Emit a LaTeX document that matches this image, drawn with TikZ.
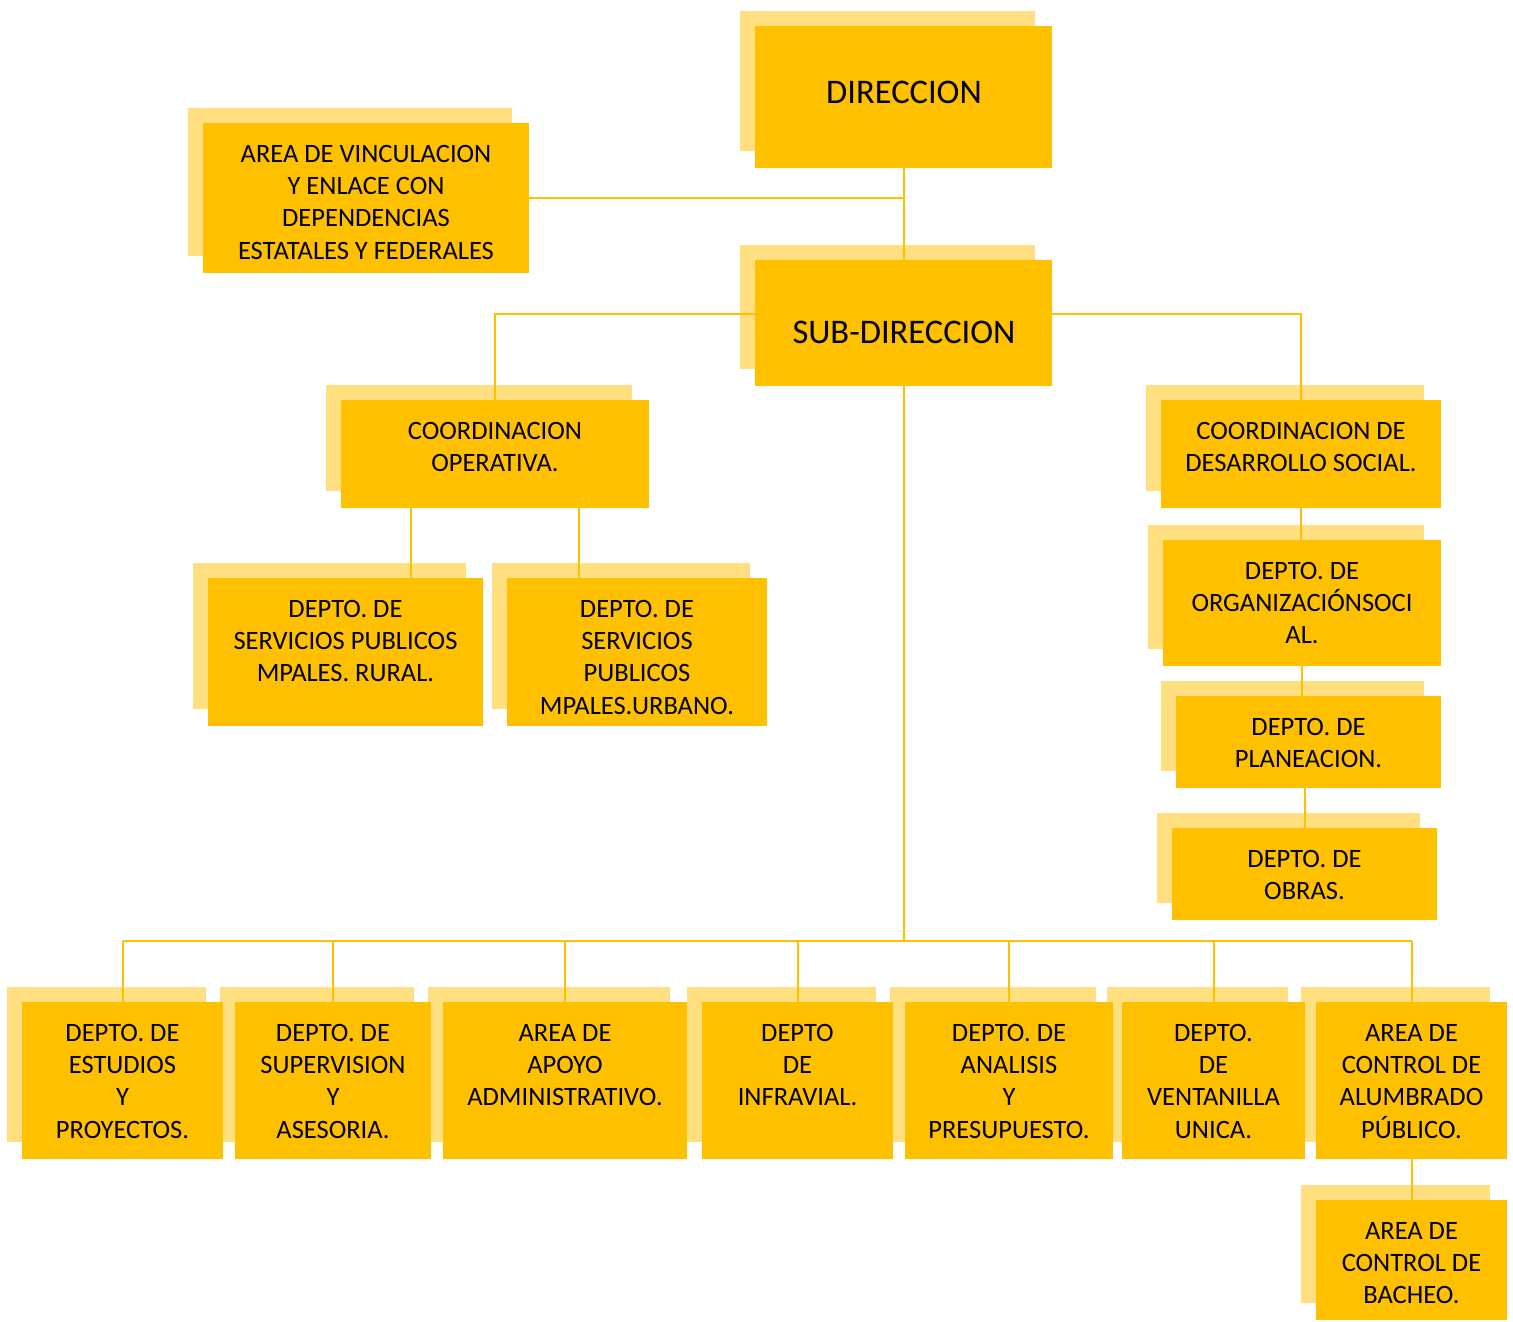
\documentclass[tikz,border=0pt]{standalone}
\usepackage{fontspec}
\setmainfont{Carlito}
\usetikzlibrary{calc}
\definecolor{mainc}{HTML}{FFC000}
\definecolor{shadc}{HTML}{FFDF7F}
\pgfdeclarelayer{shad}
\pgfdeclarelayer{conn}
\pgfsetlayers{shad,conn,main}
\tikzset{
  mainbox/.style={fill=mainc, draw=none, inner sep=0pt, outer sep=0pt},
  shadbox/.style={fill=shadc},
  txt/.style={inner sep=0pt, outer sep=0pt, align=center, text=black, font=\fontsize{26.5}{32.4}\selectfont},
  bigtxt/.style={inner sep=0pt, outer sep=0pt, align=center, text=black, font=\fontsize{34.5}{40}\selectfont},
  conline/.style={draw=mainc, line width=2pt}
}
% name, x1, y1, x2, y2
\newcommand\mkbox[5]{%
  \begin{pgfonlayer}{shad}
    \fill[shadbox] (#2-15,#3-15) rectangle (#4-17,#5-17);
  \end{pgfonlayer}
  \node[mainbox, minimum width={#4pt-#2pt}, minimum height={#5pt-#3pt}] (#1) at ({(#2+#4)/2},{(#3+#5)/2}) {};
}
\newcommand\mktext[2]{%
  \node[txt, anchor=north] (#1t) at ($(#1.north)+(0,19)$) {\rule{0pt}{20pt}#2};
}
\begin{document}
\begin{tikzpicture}[x=1pt,y=-1pt]
\useasboundingbox (0,0) rectangle (1513,1322);

\mkbox{dir}{755}{26}{1052}{168}
\node[bigtxt, anchor=base] (dirt) at (904,103) {DIRECCION};
\mkbox{vin}{203}{123}{529}{273}
\mktext{vin}{AREA DE VINCULACION\\Y ENLACE CON\\DEPENDENCIAS\\ESTATALES Y FEDERALES}
\mkbox{sub}{755}{260}{1052}{386}
\node[bigtxt, anchor=base] (subt) at (904,343) {SUB-DIRECCION};
\mkbox{cop}{341}{400}{649}{508}
\mktext{cop}{COORDINACION\\OPERATIVA.}
\mkbox{cds}{1161}{400}{1441}{508}
\mktext{cds}{COORDINACION DE\\DESARROLLO SOCIAL.}
\mkbox{rur}{208}{578}{483}{726}
\mktext{rur}{DEPTO. DE\\SERVICIOS PUBLICOS\\MPALES. RURAL.}
\mkbox{urb}{507}{578}{767}{726}
\mktext{urb}{DEPTO. DE\\SERVICIOS\\PUBLICOS\\MPALES.URBANO.}
\mkbox{org}{1163}{540}{1441}{666}
\mktext{org}{DEPTO. DE\\ORGANIZACIÓNSOCI\\AL.}
\mkbox{pla}{1176}{696}{1441}{788}
\mktext{pla}{DEPTO. DE\\PLANEACION.}
\mkbox{obr}{1172}{828}{1437}{920}
\mktext{obr}{DEPTO. DE\\OBRAS.}

\mkbox{ba}{22}{1002}{223}{1159}
\mktext{ba}{DEPTO. DE\\ESTUDIOS\\Y\\PROYECTOS.}
\mkbox{bb}{235}{1002}{431}{1159}
\mktext{bb}{DEPTO. DE\\SUPERVISION\\Y\\ASESORIA.}
\mkbox{bc}{443}{1002}{687}{1159}
\mktext{bc}{AREA DE\\APOYO\\ADMINISTRATIVO.}
\mkbox{bd}{702}{1002}{893}{1159}
\mktext{bd}{DEPTO\\DE\\INFRAVIAL.}
\mkbox{be}{905}{1002}{1113}{1159}
\mktext{be}{DEPTO. DE\\ANALISIS\\Y\\PRESUPUESTO.}
\mkbox{bf}{1122}{1002}{1305}{1159}
\mktext{bf}{DEPTO.\\DE\\VENTANILLA\\UNICA.}
\mkbox{bg}{1316}{1002}{1507}{1159}
\mktext{bg}{AREA DE\\CONTROL DE\\ALUMBRADO\\PÚBLICO.}
\mkbox{bac}{1316}{1200}{1507}{1320}
\mktext{bac}{AREA DE\\CONTROL DE\\BACHEO.}

\coordinate (r1) at (411,0);
\coordinate (r2) at (579,0);
\coordinate (bus) at (0,941);

\begin{pgfonlayer}{conn}
\draw[conline] (dir.south) -- (sub.north);
\draw[conline] (vin.east) -- (vin.east -| dir.south);
\draw[conline] ([yshift=9pt]sub.west) -| (cop.north);
\draw[conline] ([yshift=9pt]sub.east) -| (cds.north);
\draw[conline] (cop.south -| r1) -- (rur.north -| r1);
\draw[conline] (cop.south -| r2) -- (urb.north -| r2);
\draw[conline] (cds.south) -- (cds.south |- org.north);
\draw[conline] (org.south) -- (org.south |- pla.north);
\draw[conline] (obr.north) -- (obr.north |- pla.south);
\draw[conline] (sub.south) -- (sub.south |- bus);
\draw[conline] (ba.north |- bus) -- (bg.north |- bus);
\foreach \n in {ba,bb,bc,bd,be,bf,bg}{
  \draw[conline] (\n.north |- bus) -- (\n.north);
}
\draw[conline] (bg.south) -- (bac.north);
\end{pgfonlayer}
\end{tikzpicture}
\end{document}
